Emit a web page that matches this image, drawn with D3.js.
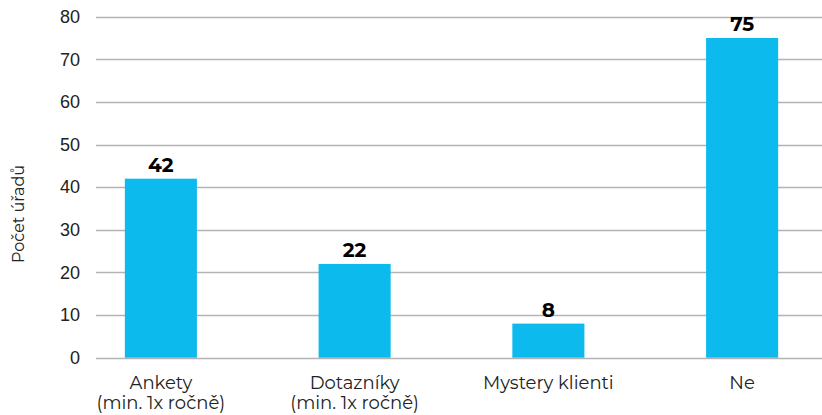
<!DOCTYPE html>
<html>
<head>
<meta charset="utf-8">
<script src="https://cdn.jsdelivr.net/npm/d3@7"></script>
<style>
  body { margin: 0; background: #fff; }
  svg { display: block; font-family: "Montserrat", "Noto Sans", sans-serif; }
</style>
</head>
<body>
<div id="chart"></div>
<script>
const categories = [["Ankety", "(min. 1x ročně)"], ["Dotazníky", "(min. 1x ročně)"], ["Mystery klienti"], ["Ne"]];
const values = [42, 22, 8, 75];
const yTicks = [0, 10, 20, 30, 40, 50, 60, 70, 80];
const yTitle = "Počet úřadů";

const width = 822;
const height = 415;

const svg = d3.select("#chart").append("svg")
    .attr("width", width)
    .attr("height", height);

const x = d3.scaleBand()
    .domain(d3.range(values.length))
    .range([64, 839])
    .paddingInner(0.628)
    .paddingOuter(0.314);

const y = d3.scaleLinear()
    .domain([0, 80])
    .range([357.7, 16.7]);

// gridlines
svg.append("g")
    .selectAll("line")
    .data(yTicks)
    .enter()
    .append("line")
    .attr("x1", 96)
    .attr("x2", width)
    .attr("y1", d => Math.round(y(d)) + 0.5)
    .attr("y2", d => Math.round(y(d)) + 0.5)
    .attr("stroke", "#b3b3b3")
    .attr("stroke-width", 1.3);

// y tick labels
const yAxis = svg.append("g")
    .attr("transform", "translate(80,0)")
    .call(d3.axisLeft(y).tickValues(yTicks).tickSize(0).tickPadding(0));
yAxis.select(".domain").remove();
yAxis.selectAll("text")
    .attr("font-size", "18px")
    .attr("fill", "#222")
    .style("font-family", "inherit");

// bars
svg.append("g")
    .selectAll("rect")
    .data(values)
    .enter()
    .append("rect")
    .attr("x", (d, i) => x(i))
    .attr("y", d => y(d))
    .attr("width", x.bandwidth())
    .attr("height", d => y(0) - y(d))
    .attr("fill", "#0dbaed");

// value labels
svg.append("g")
    .selectAll("text")
    .data(values)
    .enter()
    .append("text")
    .attr("x", (d, i) => x(i) + x.bandwidth() / 2)
    .attr("y", d => y(d) - 7)
    .attr("text-anchor", "middle")
    .attr("font-size", "20px")
    .attr("font-weight", 700)
    .attr("fill", "#000")
    .text(d => d);

// category labels
const cat = svg.append("g")
    .selectAll("text")
    .data(categories)
    .enter()
    .append("text")
    .attr("x", (d, i) => x(i) + x.bandwidth() / 2)
    .attr("y", 389)
    .attr("text-anchor", "middle")
    .attr("font-size", "18px")
    .attr("fill", "#222");
cat.selectAll("tspan")
    .data(d => d)
    .enter()
    .append("tspan")
    .attr("x", function() { return this.parentNode.getAttribute("x"); })
    .attr("dy", (d, i) => i === 0 ? 0 : 20)
    .text(d => d);

// y axis title
svg.append("text")
    .attr("transform", "translate(24,214) rotate(-90)")
    .attr("text-anchor", "middle")
    .attr("font-size", "16px")
    .attr("fill", "#222")
    .text(yTitle);
</script>
</body>
</html>
